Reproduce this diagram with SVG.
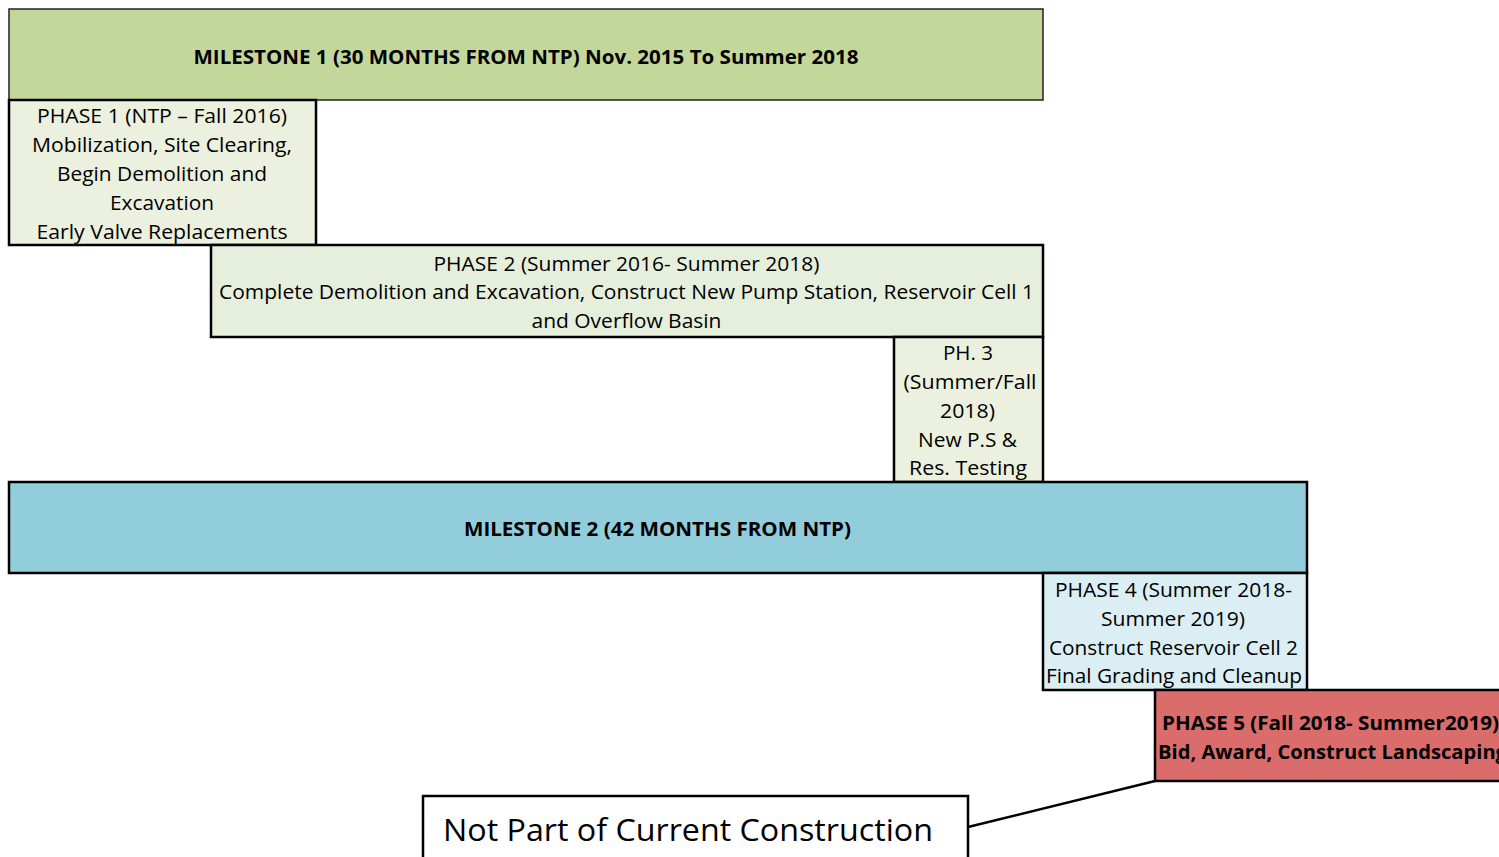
<svg xmlns="http://www.w3.org/2000/svg" width="1499" height="857" viewBox="0 0 1499 857">
<style>
.box{stroke:#000;stroke-width:2.5}
.t{font-family:"Open Sans","Liberation Sans",sans-serif;font-size:20px;fill:#000;text-anchor:middle}
.b{font-weight:bold}
.conn{stroke:#000;stroke-width:2.5;fill:none}
</style>
<rect width="1499" height="857" fill="#fff"/>
<g id="milestone1">
<rect x="9" y="9" width="1034" height="91" fill="#c4d79b" stroke="#222" stroke-width="1.5"/>
<text class="t b" x="526" y="64" textLength="665" lengthAdjust="spacingAndGlyphs">MILESTONE 1 (30 MONTHS FROM NTP) Nov. 2015 To Summer 2018</text>
</g>
<g id="phase1">
<rect class="box" x="9" y="100" width="307" height="145" fill="#ebf1de"/>
<text class="t" x="162" y="123" textLength="250" lengthAdjust="spacingAndGlyphs">PHASE 1 (NTP – Fall 2016)</text>
<text class="t" x="162" y="152" textLength="260" lengthAdjust="spacingAndGlyphs">Mobilization, Site Clearing,</text>
<text class="t" x="162" y="181" textLength="210" lengthAdjust="spacingAndGlyphs">Begin Demolition and</text>
<text class="t" x="162" y="210" textLength="104" lengthAdjust="spacingAndGlyphs">Excavation</text>
<text class="t" x="162" y="239" textLength="251" lengthAdjust="spacingAndGlyphs">Early Valve Replacements</text>
</g>
<g id="phase2">
<rect class="box" x="211" y="245" width="832" height="92" fill="#e6efdc"/>
<text class="t" x="626.5" y="271" textLength="386" lengthAdjust="spacingAndGlyphs">PHASE 2 (Summer 2016- Summer 2018)</text>
<text class="t" x="626.5" y="299" textLength="815" lengthAdjust="spacingAndGlyphs">Complete Demolition and Excavation, Construct New Pump Station, Reservoir Cell 1</text>
<text class="t" x="626.5" y="328" textLength="190" lengthAdjust="spacingAndGlyphs">and Overflow Basin</text>
</g>
<g id="phase3">
<rect class="box" x="894" y="337" width="149" height="145" fill="#ebf1de"/>
<text class="t" x="968" y="360" textLength="50" lengthAdjust="spacingAndGlyphs">PH. 3</text>
<text class="t" x="970" y="389" textLength="133" lengthAdjust="spacingAndGlyphs">(Summer/Fall</text>
<text class="t" x="967.5" y="418" textLength="55" lengthAdjust="spacingAndGlyphs">2018)</text>
<text class="t" x="967.5" y="447" textLength="99" lengthAdjust="spacingAndGlyphs">New P.S &amp;</text>
<text class="t" x="968" y="475" textLength="118" lengthAdjust="spacingAndGlyphs">Res. Testing</text>
</g>
<g id="milestone2">
<rect class="box" x="9" y="482" width="1298" height="91" fill="#92cddc"/>
<text class="t b" x="657.5" y="536" textLength="387" lengthAdjust="spacingAndGlyphs">MILESTONE 2 (42 MONTHS FROM NTP)</text>
</g>
<g id="phase4">
<rect class="box" x="1043" y="573" width="264" height="117" fill="#daeef3"/>
<text class="t" x="1173.5" y="597" textLength="237" lengthAdjust="spacingAndGlyphs">PHASE 4 (Summer 2018-</text>
<text class="t" x="1173" y="626" textLength="144" lengthAdjust="spacingAndGlyphs">Summer 2019)</text>
<text class="t" x="1173.5" y="655" textLength="249" lengthAdjust="spacingAndGlyphs">Construct Reservoir Cell 2</text>
<text class="t" x="1174" y="683" textLength="256" lengthAdjust="spacingAndGlyphs">Final Grading and Cleanup</text>
</g>
<g id="phase5">
<rect class="box" x="1155" y="690" width="360" height="91" fill="#da6c6c"/>
<text class="t b" x="1162" y="730" style="text-anchor:start" textLength="337" lengthAdjust="spacingAndGlyphs">PHASE 5 (Fall 2018- Summer2019)</text>
<text class="t b" x="1158" y="759" style="text-anchor:start" textLength="349" lengthAdjust="spacingAndGlyphs">Bid, Award, Construct Landscaping</text>
</g>
<g id="connectors">
<line class="conn" x1="968" y1="827" x2="1155" y2="781"/>
</g>
<g id="note">
<rect class="box" x="423" y="796" width="545" height="80" fill="#fff"/>
<text class="t" x="688" y="841" style="font-size:31px" textLength="490" lengthAdjust="spacingAndGlyphs">Not Part of Current Construction</text>
</g>
</svg>
